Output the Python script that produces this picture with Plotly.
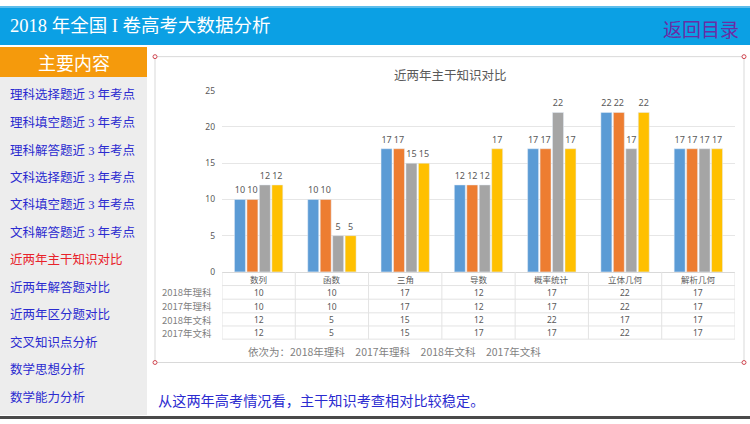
import plotly.graph_objects as go

categories = ["数列", "函数", "三角", "导数", "概率统计", "立体几何", "解析几何"]
series_names = ["2018年理科", "2017年理科", "2018年文科", "2017年文科"]
li_2018 = [10, 10, 17, 12, 17, 22, 17]
li_2017 = [10, 10, 17, 12, 17, 22, 17]
wen_2018 = [12, 5, 15, 12, 22, 17, 17]
wen_2017 = [12, 5, 15, 17, 17, 22, 17]
series_values = [li_2018, li_2017, wen_2018, wen_2017]
series_colors = ["#5B9BD5", "#ED7D31", "#A5A5A5", "#FFC000"]
y_ticks = [0, 5, 10, 15, 20, 25]

menu_items = ["理科选择题近 3 年考点", "理科填空题近 3 年考点", "理科解答题近 3 年考点",
              "文科选择题近 3 年考点", "文科填空题近 3 年考点", "文科解答题近 3 年考点",
              "近两年主干知识对比", "近两年解答题对比", "近两年区分题对比",
              "交叉知识点分析", "数学思想分析", "数学能力分析"]
active_item = 6

W, H = 750, 424
def X(px): return px / W
def Y(py): return 1 - py / H

CJK = "Noto Sans CJK SC"
MIX = "Liberation Serif, Noto Sans CJK SC"

fig = go.Figure()
for name, vals, col in zip(series_names, series_values, series_colors):
    fig.add_trace(go.Bar(
        x=categories, y=vals, name=name, marker_color=col,
        text=[str(v) for v in vals], textposition="outside",
        textfont=dict(size=9, color="#595959", family="Noto Sans"),
        cliponaxis=False,
    ))

shapes = []
ann = []

# header
shapes.append(dict(type="rect", xref="paper", yref="paper", x0=0, x1=1, y0=Y(40), y1=1,
                   fillcolor="#0BA0E4", line=dict(width=0), layer="below"))
shapes.append(dict(type="rect", xref="paper", yref="paper", x0=0, x1=1, y0=Y(2), y1=1,
                   fillcolor="#5DBDEB", line=dict(width=0), layer="below"))
ann.append(dict(text="2018 年全国 I 卷高考大数据分析", x=X(8), y=Y(21), xref="paper", yref="paper",
                xanchor="left", yanchor="middle", showarrow=False,
                font=dict(family=MIX, size=18.5, color="white")))
ann.append(dict(text="返回目录", x=X(741), y=Y(23), xref="paper", yref="paper",
                xanchor="right", yanchor="middle", showarrow=False,
                font=dict(family=CJK, size=19, color="#6A2CA6")))

# sidebar
shapes.append(dict(type="rect", xref="paper", yref="paper", x0=0, x1=X(147), y0=Y(420), y1=Y(73),
                   fillcolor="#EDEDED", line=dict(width=0), layer="below"))
shapes.append(dict(type="rect", xref="paper", yref="paper", x0=0, x1=X(147), y0=Y(73), y1=Y(42),
                   fillcolor="#F59A0C", line=dict(width=0), layer="below"))
ann.append(dict(text="主要内容", x=X(74), y=Y(57), xref="paper", yref="paper",
                xanchor="center", yanchor="middle", showarrow=False,
                font=dict(family=CJK, size=18, color="white")))
for i, item in enumerate(menu_items):
    ann.append(dict(text=item, x=X(8), y=Y(91.5 + 28.2 * i), xref="paper", yref="paper",
                    xanchor="left", yanchor="middle", showarrow=False,
                    font=dict(family=MIX, size=12.5,
                              color="#E8222A" if i == active_item else "#2B2BD0")))

# bottom dark line
shapes.append(dict(type="rect", xref="paper", yref="paper", x0=0, x1=1, y0=0, y1=Y(421),
                   fillcolor="#4A4A4A", line=dict(width=0), layer="below"))

# chart frame
shapes.append(dict(type="rect", xref="paper", yref="paper", x0=X(155), x1=X(744), y0=Y(366), y1=Y(52),
                   fillcolor="rgba(0,0,0,0)", line=dict(width=1, color="#D9D9D9"), layer="below"))
for cx, cy in [(155, 52), (744, 52), (155, 366), (744, 366)]:
    shapes.append(dict(type="circle", xref="paper", yref="paper",
                       x0=X(cx - 2), x1=X(cx + 2), y0=Y(cy + 2), y1=Y(cy - 2),
                       fillcolor="white", line=dict(width=1, color="#D0454F")))

ann.append(dict(text="近两年主干知识对比", x=X(450), y=Y(70), xref="paper", yref="paper",
                xanchor="center", yanchor="middle", showarrow=False,
                font=dict(family=CJK, size=12.5, color="#595959")))

# data table
row_ys = [294, 308, 322, 335.5]
line_ys = [287, 301, 315, 328.5, 342]
for i in range(len(categories) + 1):
    shapes.append(dict(type="line", xref="x", yref="paper", x0=i - 0.5, x1=i - 0.5,
                       y0=Y(273), y1=Y(342), line=dict(width=1, color="#E3E3E3")))
for ly in line_ys:
    shapes.append(dict(type="line", xref="x", yref="paper", x0=-0.5, x1=len(categories) - 0.5,
                       y0=Y(ly), y1=Y(ly), line=dict(width=1, color="#E3E3E3")))
for c in categories:
    ann.append(dict(text=c, x=c, y=Y(280), xref="x", yref="paper", xanchor="center",
                    yanchor="middle", showarrow=False,
                    font=dict(family=CJK, size=8.5, color="#595959")))
for r, (name, vals) in enumerate(zip(series_names, series_values)):
    ann.append(dict(text=name, x=X(160), y=Y(row_ys[r]), xref="paper", yref="paper",
                    xanchor="left", yanchor="middle", showarrow=False,
                    font=dict(family=CJK, size=9.5, color="#7F7F7F")))
    for c, v in zip(categories, vals):
        ann.append(dict(text=str(v), x=c, y=Y(row_ys[r]), xref="x", yref="paper",
                        xanchor="center", yanchor="middle", showarrow=False,
                        font=dict(family="Noto Sans", size=8.5, color="#595959")))

ann.append(dict(text="依次为：" + "　".join(series_names), x=X(246), y=Y(355), xref="paper", yref="paper",
                xanchor="left", yanchor="middle", showarrow=False,
                font=dict(family=CJK, size=10.5, color="#7F7F7F")))

ann.append(dict(text="从这两年高考情况看，主干知识考查相对比较稳定。", x=X(156), y=Y(404),
                xref="paper", yref="paper", xanchor="left", yanchor="middle", showarrow=False,
                font=dict(family=CJK, size=14.2, color="#2B2BD0")))

fig.update_layout(
    width=W, height=H, margin=dict(l=0, r=0, t=0, b=0),
    paper_bgcolor="white", plot_bgcolor="white",
    barmode="group", bargap=0.32, bargroupgap=0.12,
    showlegend=False, shapes=shapes, annotations=ann,
    xaxis=dict(domain=[X(222), X(735)], range=[-0.5, 6.5], showticklabels=False,
               showgrid=False, showline=True, linecolor="#D9D9D9", zeroline=False,
               fixedrange=True),
    yaxis=dict(domain=[Y(273), Y(87)], range=[0, 25], tickvals=y_ticks,
               showgrid=True, gridcolor="#E6E6E6", zeroline=False, showline=False,
               ticklabelstandoff=6,
               tickfont=dict(family="Noto Sans", size=8.5, color="#595959"),
               fixedrange=True),
)

fig.write_html("out.html", config={"displayModeBar": False})

with open("out.html", "r", encoding="utf-8") as f:
    html = f.read()
html = html.replace(
    "<head>",
    "<head><style>html,body{margin:0;padding:0;overflow:hidden;background:#ffffff;}</style>",
    1,
)
with open("out.html", "w", encoding="utf-8") as f:
    f.write(html)
